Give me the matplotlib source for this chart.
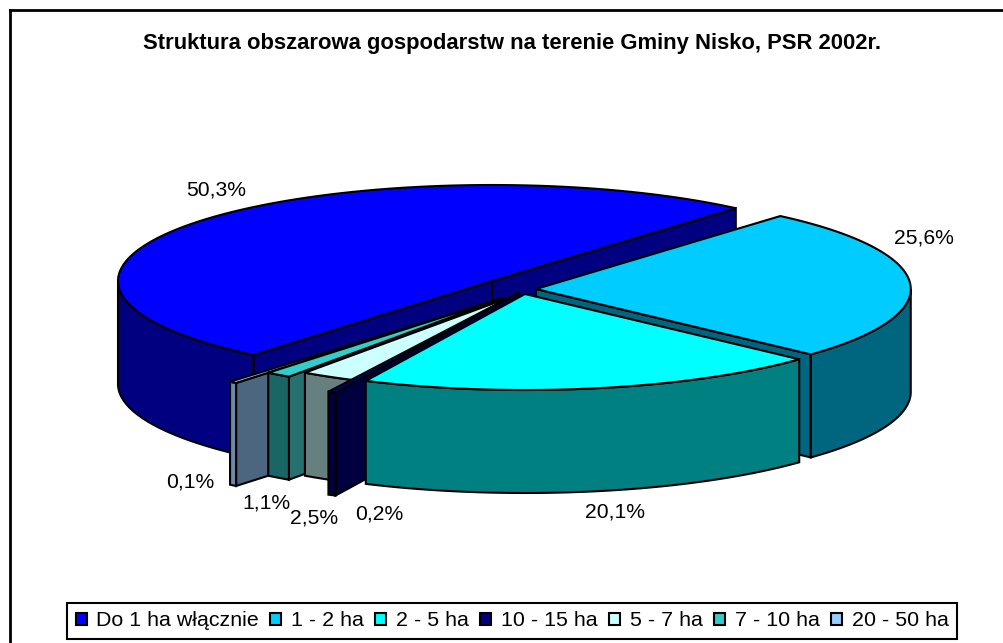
import numpy as np
import matplotlib
matplotlib.use('Agg')
import matplotlib.pyplot as plt
from matplotlib.patches import Polygon, Patch

plt.rcParams['font.family'] = ['Liberation Sans', 'DejaVu Sans']

title = 'Struktura obszarowa gospodarstw na terenie Gminy Nisko, PSR 2002r.'
categories = ['Do 1 ha włącznie', '1 - 2 ha', '2 - 5 ha', '10 - 15 ha', '5 - 7 ha', '7 - 10 ha', '20 - 50 ha']
values = [50.3, 25.6, 20.1, 0.2, 2.5, 1.1, 0.1]
labels = ['50,3%', '25,6%', '20,1%', '0,2%', '2,5%', '1,1%', '0,1%']

top_colors = ['#0000FF', '#00CCFF', '#00FFFF', '#000080', '#CCFFFF', '#33CCCC', '#99CCFF']
side_colors = ['#000080', '#006680', '#008080', '#000040', '#668080', '#1A6666', '#6C8AA8']
wall_colors = ['#000080', '#006680', '#008080', '#000040', '#668080', '#267070', '#4D6680']

# layout of the exploded slices, in pixels
centers = [(492, 281), (536, 289), (525, 294), (518, 293), (519, 294), (503, 298), (503, 298)]
radius_scale = [1, 1.002, 1, 1.146, 1, 1, 1.137]
label_pos = [(216, 190), (924, 238), (615, 512), (379, 514), (314, 518), (266, 503), (190, 482)]
draw_order = [0, 1, 6, 5, 4, 3, 2]
RX, RY, DEPTH = 374, 96, 103
FIRST_ANGLE = 230.4   # slices go clockwise from here
MIN_SWEEP = 1.05      # thinnest slices still need a visible rim


def rim(cx, cy, r, angles):
    t = np.radians(angles)
    return np.column_stack([cx + RX * r * np.cos(t), cy - RY * r * np.sin(t)])


def draw_slice(ax, idx, lo, hi):
    cx, cy = centers[idx]
    r = radius_scale[idx]
    style = dict(edgecolor='black', linewidth=1.5, joinstyle='miter')
    drop = np.array([0, DEPTH])

    # radial walls, only the ones facing the viewer
    for ang, normal in ((lo, lo - 90), (hi, hi + 90)):
        if np.sin(np.radians(normal)) < 0:
            outer = rim(cx, cy, r, [ang])[0]
            apex = np.array([cx, cy])
            pts = [apex, outer, outer + drop, apex + drop]
            ax.add_patch(Polygon(pts, facecolor=wall_colors[idx], **style))

    # front part of the rim
    angs = np.linspace(lo, hi, 200)
    front = angs[np.sin(np.radians(angs)) <= 0]
    if len(front) > 1:
        arc = rim(cx, cy, r, front)
        pts = np.vstack([arc, (arc + drop)[::-1]])
        ax.add_patch(Polygon(pts, facecolor=side_colors[idx], **style))

    # top face
    pts = np.vstack([[(cx, cy)], rim(cx, cy, r, angs)])
    ax.add_patch(Polygon(pts, facecolor=top_colors[idx], **style))


fig = plt.figure(figsize=(10.04, 6.43), dpi=100)
ax = fig.add_axes([0, 0, 1, 1])
ax.set_xlim(0, 1004)
ax.set_ylim(643, 0)
ax.axis('off')

# chart frame runs off the right and bottom edge
ax.plot([10, 10], [643, 10], color='black', lw=2)
ax.plot([10, 1004], [10, 10], color='black', lw=2)

ax.text(512.5, 44, title, ha='center', va='center', fontsize=15.8, fontweight='bold')

sweeps = np.array(values) * 3.6
highs = FIRST_ANGLE - np.concatenate([[0], np.cumsum(sweeps)[:-1]])
lows = highs - np.maximum(sweeps, MIN_SWEEP)
for i in draw_order:
    draw_slice(ax, i, lows[i], highs[i])

for txt, (x, y) in zip(labels, label_pos):
    ax.text(x, y, txt, ha='center', va='center', fontsize=15.2)

handles = [Patch(facecolor=c, edgecolor='black', linewidth=1.5) for c in top_colors]
leg = ax.legend(handles, categories, ncol=7, loc='center',
                bbox_to_anchor=(512 / 1004, 1 - 621 / 643), fontsize=15.4,
                frameon=True, fancybox=False, edgecolor='black', framealpha=1,
                handlelength=0.52, handleheight=0.52, handletextpad=0.45,
                columnspacing=0.53, borderpad=0.38, borderaxespad=0)
leg.get_frame().set_linewidth(1.5)

fig.savefig('out.png', dpi=100)
